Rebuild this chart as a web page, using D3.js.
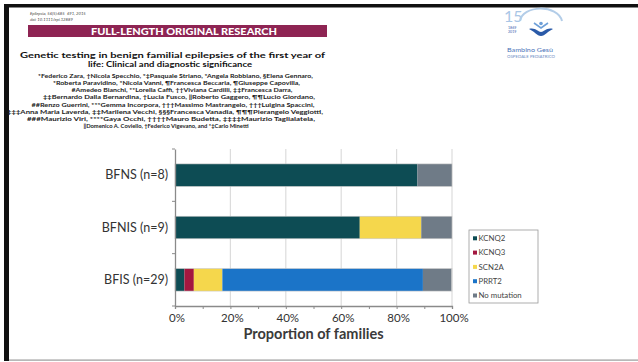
<!DOCTYPE html>
<html>
<head>
<meta charset="utf-8">
<script src="https://cdn.jsdelivr.net/npm/d3@7"></script>
<style>
  html, body { margin: 0; padding: 0; background: #fff; }
  svg { display: block; }
</style>
</head>
<body>
<svg id="slide" width="638" height="362"></svg>
<script>
// ---- chart data: proportion of families (%) per syndrome ----
const categories = ["BFNS (n=8)", "BFNIS (n=9)", "BFIS (n=29)"];
const seriesNames = ["KCNQ2", "KCNQ3", "SCN2A", "PRRT2", "No mutation"];
const kcnq2 = [87.5, 66.7, 3.4];
const kcnq3 = [0, 0, 3.4];
const scn2a = [0, 22.2, 10.3];
const prrt2 = [0, 0, 72.4];
const noMutation = [12.5, 11.1, 10.3];
const xTicks = [0, 20, 40, 60, 80, 100];
const xMinorTicks = [0, 10, 20, 30, 40, 50, 60, 70, 80, 90, 100];
const seriesColors = ["#0d4c54", "#a3173f", "#f5d74c", "#1b74c8", "#6f7b87"];

// ---- header text (article title block) ----
const journalLines = ["Epilepsia, 56(5):685\u2013691, 2015", "doi: 10.1111/epi.12889"];
const bannerText = "FULL-LENGTH ORIGINAL RESEARCH";
const titleLines = [
  "Genetic testing in benign familial epilepsies of the first year of",
  "life: Clinical and diagnostic significance"
];
const authorLines = [
  "*Federico Zara, \u2020Nicola Specchio, *\u2021Pasquale Striano, *Angela Robbiano, \u00a7Elena Gennaro,",
  "*Roberta Paravidino, *Nicola Vanni, \u00b6Francesca Beccaria, \u00b6Giuseppe Capovilla,",
  "#Amedeo Bianchi, **Lorella Caffi, \u2020\u2020Viviana Cardilli, \u2021\u2021Francesca Darra,",
  "\u2021\u2021Bernardo Dalla Bernardina, \u2020Lucia Fusco, \u2016Roberto Gaggero, \u00b6\u00b6Lucio Giordano,",
  "##Renzo Guerrini, ***Gemma Incorpora, \u2020\u2020\u2020Massimo Mastrangelo, \u2020\u2020\u2020Luigina Spaccini,",
  "\u2021\u2021\u2021Anna Maria Laverda, \u2021\u2021Marilena Vecchi, \u00a7\u00a7\u00a7Francesca Vanadia, \u00b6\u00b6\u00b6Pierangelo Veggiotti,",
  "###Maurizio Viri, ****Gaya Occhi, \u2020\u2020\u2020\u2020Mauro Budetta, \u2021\u2021\u2021\u2021Maurizio Taglialatela,",
  "\u2016Domenico A. Coviello, \u2020Federico Vigevano, and *\u2021Carlo Minetti"
];

const svg = d3.select("#slide");
const FONT = "Lato, 'Open Sans', sans-serif";

svg.append("rect").attr("width", 638).attr("height", 362).attr("fill", "#fff");

// slide frame
svg.append("rect").attr("x", 4).attr("y", 4).attr("width", 634).attr("height", 3.5).attr("fill", "#111");
svg.append("rect").attr("x", 4).attr("y", 4).attr("width", 5).attr("height", 357).attr("fill", "#111");
svg.append("rect").attr("x", 9).attr("y", 359.5).attr("width", 629).attr("height", 1.2).attr("fill", "#9a9a9a");

// ---- article header ----
const hdr = svg.append("g").attr("font-family", FONT);
journalLines.forEach((t, i) => {
  hdr.append("text").attr("x", 30).attr("y", 15 + i * 5.5)
    .attr("font-size", 4.2).attr("font-style", "italic").attr("fill", "#444").text(t);
});
hdr.append("rect").attr("x", 28).attr("y", 25).attr("width", 299).attr("height", 12).attr("fill", "#8e2453");
hdr.append("text").attr("x", 184).attr("y", 34.5).attr("text-anchor", "middle")
  .attr("font-size", 10).attr("font-weight", 900).attr("fill", "#fff")
  .attr("textLength", 186).attr("lengthAdjust", "spacingAndGlyphs").text(bannerText);

const titleX = [172.5, 170];
const titleW = [305, 164];
titleLines.forEach((t, i) => {
  hdr.append("text").attr("x", titleX[i]).attr("y", 58 + i * 9).attr("text-anchor", "middle")
    .attr("font-size", 7.6).attr("font-weight", 700).attr("fill", "#111")
    .attr("textLength", titleW[i]).attr("lengthAdjust", "spacingAndGlyphs").text(t);
});
const authorX = [175.5, 176.5, 182, 179, 173, 165, 171, 166];
const authorW = [275, 247, 221, 272, 283, 316, 288, 165];
authorLines.forEach((t, i) => {
  hdr.append("text").attr("x", authorX[i]).attr("y", 78 + i * 7.15).attr("text-anchor", "middle")
    .attr("font-size", 5.2).attr("font-weight", 700).attr("fill", "#222")
    .attr("textLength", authorW[i]).attr("lengthAdjust", "spacingAndGlyphs").text(t);
});

// ---- hospital logo ----
const logo = svg.append("g").attr("font-family", FONT);
logo.append("text").attr("x", 504).attr("y", 22).attr("font-size", 16).attr("fill", "#a9c6e6").text("15");
logo.append("path").attr("d", "M520,21 C522,5 558,4 562,21")
  .attr("fill", "none").attr("stroke", "#b3cde8").attr("stroke-width", 2);
logo.append("circle").attr("cx", 541).attr("cy", 23.5).attr("r", 1.8).attr("fill", "#6fa0d8");
logo.append("path").attr("d", "M534,23 L541,28 L548,23").attr("fill", "none")
  .attr("stroke", "#6fa0d8").attr("stroke-width", 1.6);
logo.append("path").attr("d", "M529,29 C535,27 538,32 541,32 C544,32 547,27 553,29 C548,31 545,36 541,36 C537,36 534,31 529,29 Z")
  .attr("fill", "#2a5aa8");
logo.append("text").attr("x", 508).attr("y", 29).attr("font-size", 3.6).attr("fill", "#3a66b0").text("1869");
logo.append("text").attr("x", 508).attr("y", 32.5).attr("font-size", 3.6).attr("fill", "#3a66b0").text("2019");
logo.append("text").attr("x", 507).attr("y", 52).attr("font-size", 6.2).attr("fill", "#4a72b8")
  .attr("textLength", 46).attr("lengthAdjust", "spacingAndGlyphs").text("Bambino Gesù");
logo.append("text").attr("x", 507).attr("y", 58).attr("font-size", 2.8).attr("fill", "#6d8cc4")
  .attr("textLength", 48).attr("lengthAdjust", "spacingAndGlyphs").text("OSPEDALE PEDIATRICO");

// ---- stacked bar chart ----
const x = d3.scaleLinear().domain([0, 100]).range([175, 452]);
const y = d3.scaleBand().domain(categories).range([149, 306]).paddingInner(0.57).paddingOuter(0.285);

const rows = categories.map((c, i) => ({
  category: c,
  KCNQ2: kcnq2[i], KCNQ3: kcnq3[i], SCN2A: scn2a[i], PRRT2: prrt2[i], "No mutation": noMutation[i]
}));
const stacked = d3.stack().keys(seriesNames)(rows);
const color = d3.scaleOrdinal().domain(seriesNames).range(seriesColors);

const chart = svg.append("g").attr("font-family", FONT);

// vertical gridlines
chart.append("g").selectAll("line").data(xTicks.slice(1)).join("line")
  .attr("x1", d => x(d)).attr("x2", d => x(d))
  .attr("y1", y.range()[0]).attr("y2", y.range()[1])
  .attr("stroke", "#dcdcdc").attr("stroke-width", 1.2);

// bars
chart.append("g").selectAll("g").data(stacked).join("g")
  .attr("fill", d => color(d.key))
  .selectAll("rect").data(d => d).join("rect")
  .attr("x", d => x(d[0])).attr("width", d => x(d[1]) - x(d[0]))
  .attr("y", d => y(d.data.category)).attr("height", y.bandwidth());

// thin outline around each full bar
chart.append("g").selectAll("rect").data(categories).join("rect")
  .attr("x", x(0)).attr("width", x(100) - x(0))
  .attr("y", d => y(d)).attr("height", y.bandwidth())
  .attr("fill", "none").attr("stroke", "#c8c8c8").attr("stroke-width", 0.6);

// bottom axis: minor ticks every 10%, labels every 20%
const xAxis = d3.axisBottom(x).tickValues(xMinorTicks).tickSize(3)
  .tickFormat(d => xTicks.includes(d) ? d + "%" : "");
const gx = chart.append("g").attr("transform", `translate(0,${y.range()[1]})`).call(xAxis);
gx.select(".domain").attr("stroke", "#8a8a8a").attr("stroke-width", 1.3);
gx.selectAll(".tick line").attr("stroke", "#8a8a8a");
gx.selectAll(".tick text").attr("font-family", FONT).attr("font-size", 11.5)
  .attr("fill", "#333").attr("dy", "0.9em").attr("dx", 1.5);

// left axis: category labels, ticks on the band boundaries
const yAxis = d3.axisLeft(y).tickSize(0).tickPadding(7);
const gy = chart.append("g").attr("transform", `translate(${x(0)},0)`).call(yAxis);
gy.select(".domain").attr("stroke", "#8a8a8a").attr("stroke-width", 1.3);
gy.selectAll(".tick text").attr("font-family", FONT).attr("font-size", 12.5).attr("fill", "#333");
const step = y.step();
const boundaries = categories.map(c => y(c) - step * y.paddingInner() / 2).concat([y.range()[1]]);
chart.append("g").selectAll("line").data(boundaries).join("line")
  .attr("x1", x(0) - 3).attr("x2", x(0)).attr("y1", d => d).attr("y2", d => d)
  .attr("stroke", "#8a8a8a").attr("stroke-width", 1);

// axis title
chart.append("text").attr("x", (x(0) + x(100)) / 2).attr("y", 339).attr("text-anchor", "middle")
  .attr("font-size", 14.5).attr("font-weight", 700).attr("fill", "#3a3a3a").text("Proportion of families");

// legend
const lg = chart.append("g").attr("transform", "translate(469,230)");
lg.append("rect").attr("width", 69).attr("height", 73).attr("fill", "#fff")
  .attr("stroke", "#9a9a9a").attr("stroke-width", 0.8);
const li = lg.selectAll("g").data(seriesNames).join("g")
  .attr("transform", (d, i) => `translate(4,${8.3 + i * 14.3})`);
li.append("rect").attr("x", 0).attr("y", -2).attr("width", 4).attr("height", 4).attr("fill", d => color(d));
li.append("text").attr("x", 5.5).attr("y", 0).attr("dy", "0.35em")
  .attr("font-size", 7.8).attr("fill", "#444").text(d => d);
</script>
</body>
</html>
